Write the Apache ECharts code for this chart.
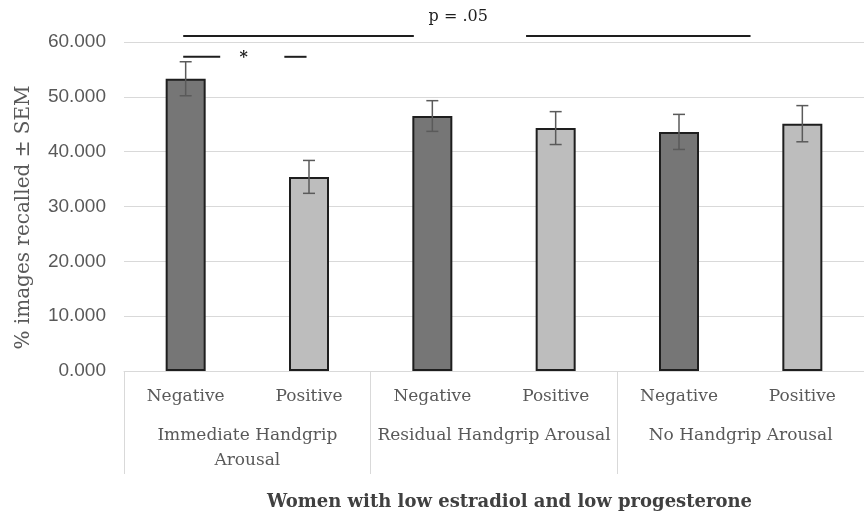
<!DOCTYPE html>
<html>
<head>
<meta charset="utf-8">
<script src="https://cdn.jsdelivr.net/npm/echarts@6/dist/echarts.min.js"></script>
<style>
    html, body { margin: 0; padding: 0; background: #fff; }
    #chart { width: 864px; height: 520px; }
</style>
</head>
<body>
<div id="chart"></div>
<script>
    // bar labels and grouping
    var conditions = ['Negative', 'Positive', 'Negative', 'Positive', 'Negative', 'Positive'];
    var groups = ['Immediate Handgrip\nArousal', 'Residual Handgrip Arousal', 'No Handgrip Arousal'];

    // % images recalled and SEM
    var means = [53.3, 35.4, 46.5, 44.3, 43.6, 45.1];
    var sems = [3.1, 3.0, 2.8, 3.0, 3.2, 3.3];

    // y axis
    var yTicks = [0, 10, 20, 30, 40, 50, 60];

    // significance annotations: [fromCategory, toCategory, yValue]
    var sigLines = [[-0.02, 1.85, 61.1], [2.76, 4.58, 61.1], [-0.02, 0.28, 57.3], [0.80, 0.98, 57.3]];
    // [category, yValue, text]
    var sigLabels = [[2.21, 64.5, 'p = .05'], [0.47, 57.2, '*']];

    var errData = means.map(function (m, i) { return [i, m - sems[i], m + sems[i]]; });

    var chart = echarts.init(document.getElementById('chart'));

    function xAt(api, pos) {
        return api.coord([0, 0])[0] + pos * api.size([1, 0])[0];
    }

    chart.setOption({
        animation: false,
        title: {
            text: 'Women with low estradiol and low progesterone',
            left: 262,
            top: 488,
            textStyle: {
                fontFamily: 'DejaVu Serif',
                fontWeight: 'bold',
                fontSize: 18,
                color: '#404040'
            }
        },
        grid: {
            left: 124,
            right: -4,
            top: 42,
            bottom: 149
        },
        xAxis: [
            {
                type: 'category',
                data: conditions,
                axisLine: { lineStyle: { color: '#d9d9d9', width: 1 } },
                axisTick: { show: false },
                axisLabel: {
                    margin: 17,
                    fontFamily: 'DejaVu Serif',
                    fontSize: 17,
                    color: '#595959'
                }
            },
            {
                type: 'category',
                data: groups,
                position: 'bottom',
                axisLine: { show: false },
                axisTick: {
                    show: true,
                    interval: 0,
                    length: 103,
                    lineStyle: { color: '#d9d9d9', width: 1 }
                },
                axisLabel: {
                    margin: 52,
                    interval: 0,
                    lineHeight: 25,
                    fontFamily: 'DejaVu Serif',
                    fontSize: 17,
                    color: '#595959'
                }
            }
        ],
        yAxis: {
            type: 'value',
            min: yTicks[0],
            max: yTicks[yTicks.length - 1],
            interval: 10,
            name: '% images recalled \u00b1 SEM',
            nameLocation: 'middle',
            nameGap: 90,
            nameTextStyle: {
                fontFamily: 'DejaVu Serif',
                fontSize: 20,
                color: '#595959',
                padding: [0, 0, 0, -22]
            },
            axisLine: { show: false },
            axisTick: { show: false },
            splitLine: { lineStyle: { color: '#d9d9d9', width: 1 } },
            axisLabel: {
                margin: 18,
                fontFamily: 'Liberation Sans',
                fontSize: 19,
                color: '#595959',
                formatter: function (v) { return v.toFixed(3); }
            }
        },
        series: [
            {
                type: 'bar',
                data: means,
                barWidth: 40,
                itemStyle: {
                    color: function (p) { return p.dataIndex % 2 ? '#bdbdbd' : '#767676'; },
                    borderColor: '#1e1e1e',
                    borderWidth: 2
                }
            },
            {
                type: 'custom',
                data: errData,
                z: 5,
                renderItem: function (params, api) {
                    var lo = api.coord([api.value(0), api.value(1)]);
                    var hi = api.coord([api.value(0), api.value(2)]);
                    var cap = 6;
                    var style = { stroke: '#5a5a5a', lineWidth: 1.5 };
                    return {
                        type: 'group',
                        children: [
                            { type: 'line', shape: { x1: lo[0], y1: lo[1], x2: hi[0], y2: hi[1] }, style: style },
                            { type: 'line', shape: { x1: hi[0] - cap, y1: hi[1], x2: hi[0] + cap, y2: hi[1] }, style: style },
                            { type: 'line', shape: { x1: lo[0] - cap, y1: lo[1], x2: lo[0] + cap, y2: lo[1] }, style: style }
                        ]
                    };
                }
            },
            {
                type: 'custom',
                data: sigLines,
                z: 6,
                renderItem: function (params, api) {
                    var y = api.coord([0, api.value(2)])[1];
                    return {
                        type: 'line',
                        shape: { x1: xAt(api, api.value(0)), y1: y, x2: xAt(api, api.value(1)), y2: y },
                        style: { stroke: '#1e1e1e', lineWidth: 2 }
                    };
                }
            },
            {
                type: 'custom',
                data: sigLabels,
                z: 6,
                renderItem: function (params, api) {
                    var item = sigLabels[params.dataIndex];
                    var y = api.coord([0, item[1]])[1];
                    return {
                        type: 'text',
                        x: xAt(api, item[0]),
                        y: y,
                        style: {
                            text: item[2],
                            align: 'center',
                            verticalAlign: 'middle',
                            fontFamily: 'DejaVu Serif',
                            fontSize: 16,
                            fontWeight: item[2] === '*' ? 'bold' : 'normal',
                            fill: '#1e1e1e'
                        }
                    };
                }
            }
        ]
    });
</script>
</body>
</html>
